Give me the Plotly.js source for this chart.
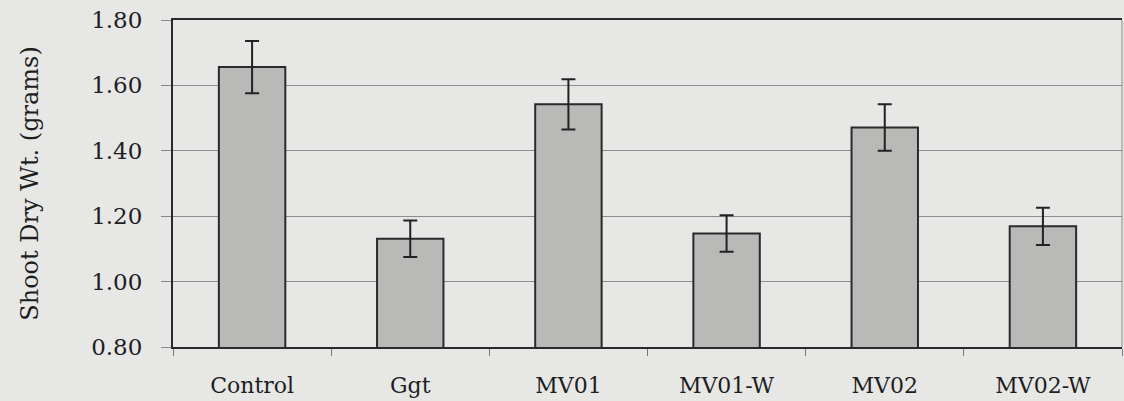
<!DOCTYPE html>
<html>
<head>
<meta charset="utf-8">
<script src="https://cdn.plot.ly/plotly-3.0.1.min.js"></script>
<style>html,body{margin:0;padding:0;background:#e7e7e5;}</style>
</head>
<body>
<div id="chart" style="width:1124px;height:401px;"></div>
<script>
const categories = ["Control", "Ggt", "MV01", "MV01-W", "MV02", "MV02-W"];
const shootDryWt = [1.656, 1.131, 1.542, 1.147, 1.471, 1.169];
const errorSE = [0.080, 0.056, 0.077, 0.056, 0.071, 0.057];
const yTickVals = [0.8, 1.0, 1.2, 1.4, 1.6, 1.8];
const yTickText = ["0.80", "1.00", "1.20", "1.40", "1.60", "1.80"];

const font = {family: "DejaVu Serif, serif", size: 22, color: "#1e1e1e"};

Plotly.newPlot("chart", [{
  type: "bar",
  x: categories,
  y: shootDryWt,
  base: 0,
  marker: {color: "#b9b9b7", line: {color: "#2a2a2a", width: 2}},
  error_y: {type: "data", array: errorSE, visible: true, color: "#222", thickness: 2, width: 7},
  hoverinfo: "skip"
}], {
  width: 1124, height: 401,
  margin: {l: 173, r: 2, t: 20, b: 54},
  paper_bgcolor: "#e7e7e5",
  plot_bgcolor: "#e7e7e5",
  bargap: 0.58,
  showlegend: false,
  font: font,
  xaxis: {
    showline: true, linecolor: "#2a2a2a", linewidth: 2, mirror: true,
    ticks: "outside", tickson: "boundaries", ticklen: 7, tickcolor: "#777", tickwidth: 1,
    ticklabelstandoff: 18,
    showgrid: false, zeroline: false,
    tickfont: {family: "DejaVu Serif, serif", size: 22, color: "#1e1e1e"}
  },
  yaxis: {
    range: [0.8, 1.8],
    tickvals: yTickVals, ticktext: yTickText,
    showline: true, linecolor: "#2a2a2a", linewidth: 2,
    ticks: "outside", ticklen: 10, tickcolor: "#888", tickwidth: 1,
    ticklabelstandoff: 14,
    showgrid: true, gridcolor: "#8e8e8e", gridwidth: 1,
    zeroline: false,
    tickfont: {family: "DejaVu Serif, serif", size: 23, color: "#1e1e1e"},
    title: {text: "Shoot Dry Wt. (grams)", font: {family: "DejaVu Serif, serif", size: 24, color: "#1e1e1e"}, standoff: 46}
  },
  shapes: [{
    type: "line", xref: "paper", yref: "paper", x0: 1, x1: 1, y0: 0, y1: 1,
    line: {color: "#8e8e8e", width: 1}
  }]
}, {displayModeBar: false, staticPlot: true});
</script>
</body>
</html>
